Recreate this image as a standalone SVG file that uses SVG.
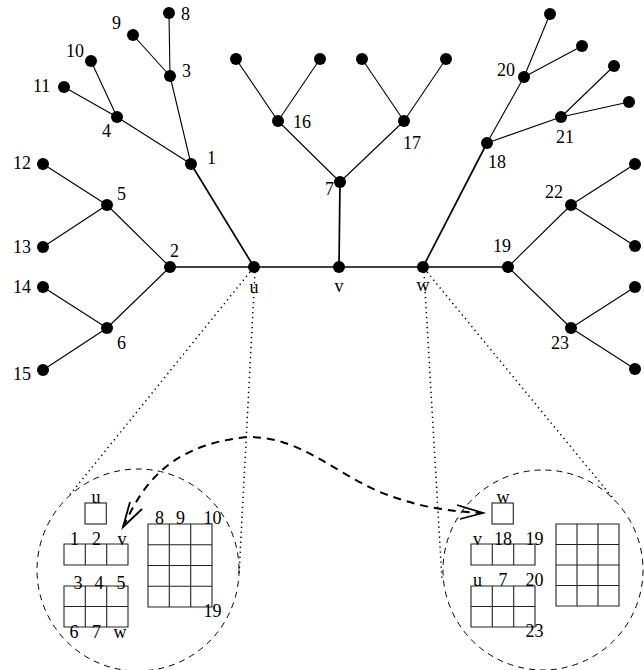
<svg xmlns="http://www.w3.org/2000/svg" width="644" height="670" viewBox="0 0 644 670">
<style>
.e{stroke:#000;stroke-width:1.1;fill:none}
.t{stroke:#000;stroke-width:1.7;fill:none}
.n{fill:#000}
text{font-family:"Liberation Serif","Times New Roman",serif;font-size:18px;fill:#000}
.m{text-anchor:middle}
.dot{stroke:#000;stroke-width:1.5;stroke-dasharray:1.3 3.7;fill:none}
.circ{stroke:#000;stroke-width:1;stroke-dasharray:6 5;fill:none}
.g{stroke:#222;stroke-width:1.1;fill:none}
.arr{stroke:#000;stroke-width:2;stroke-dasharray:8 6;fill:none}
.head{stroke:#000;stroke-width:1.8;fill:none;stroke-linejoin:miter}
</style>
<rect width="644" height="670" fill="#fff"/>
<g id="connectors">
<path class="t" d="M170,267H508"/>
<path class="t" d="M254,267L191,164"/>
<path class="t" d="M339,267L340,182"/>
<path class="t" d="M423,267L487,143"/>
<path class="e" d="M191,164L117,117M191,164L170,76M170,76L169,13M170,76L133,35M117,117L91,61M117,117L64,87"/>
<path class="e" d="M170,267L107,205M170,267L107,328M107,205L43,164M107,205L43,247M107,328L43,287M107,328L43,370"/>
<path class="e" d="M340,182L278,121M340,182L404,121M278,121L236,59M278,121L320,59M404,121L362,59M404,121L446,59"/>
<path class="e" d="M487,143L524,77M487,143L561,117M524,77L550,14M524,77L582,46M561,117L614,66M561,117L629,102"/>
<path class="e" d="M508,267L571,205M508,267L571,328M571,205L635,164M571,205L635,246M571,328L635,287M571,328L635,369"/>
<path class="dot" d="M250,272L68,497M255,272L239,575M424,272L442,580M427,272L612,497"/>
<path class="arr" d="M123,527C138,497 160,445 248,437C300,437 330,470 380,492C420,508 450,511 481,513"/>
<polyline class="head" points="130,502 123,527 142,509"/>
<polyline class="head" points="457,505 483,513 460,519"/>
</g>
<g id="node-u"><circle class="n" cx="254" cy="267" r="6"/><text class="m" x="254" y="293">u</text></g>
<g id="node-v"><circle class="n" cx="339" cy="267" r="6"/><text class="m" x="339" y="292">v</text></g>
<g id="node-w"><circle class="n" cx="423" cy="267" r="6"/><text class="m" x="423" y="291">w</text></g>
<g id="node-1"><circle class="n" cx="191" cy="164" r="6"/><text x="207" y="164">1</text></g>
<g id="node-2"><circle class="n" cx="170" cy="267" r="6"/><text x="170" y="257">2</text></g>
<g id="node-3"><circle class="n" cx="170" cy="76" r="6"/><text x="182" y="77">3</text></g>
<g id="node-4"><circle class="n" cx="117" cy="117" r="6"/><text x="102" y="137">4</text></g>
<g id="node-5"><circle class="n" cx="107" cy="205" r="6"/><text x="117" y="200">5</text></g>
<g id="node-6"><circle class="n" cx="107" cy="328" r="6"/><text x="117" y="349">6</text></g>
<g id="node-7"><circle class="n" cx="340" cy="182" r="6"/><text x="325" y="195">7</text></g>
<g id="node-8"><circle class="n" cx="169" cy="13" r="6"/><text x="181" y="20">8</text></g>
<g id="node-9"><circle class="n" cx="133" cy="35" r="6"/><text x="112" y="29">9</text></g>
<g id="node-10"><circle class="n" cx="91" cy="61" r="6"/><text x="66" y="57">10</text></g>
<g id="node-11"><circle class="n" cx="64" cy="87" r="6"/><text x="33" y="92">11</text></g>
<g id="node-12"><circle class="n" cx="43" cy="164" r="6"/><text x="13" y="169">12</text></g>
<g id="node-13"><circle class="n" cx="43" cy="247" r="6"/><text x="13" y="253">13</text></g>
<g id="node-14"><circle class="n" cx="43" cy="287" r="6"/><text x="13" y="293">14</text></g>
<g id="node-15"><circle class="n" cx="43" cy="370" r="6"/><text x="13" y="380">15</text></g>
<g id="node-16"><circle class="n" cx="278" cy="121" r="6"/><text x="293" y="128">16</text></g>
<g id="node-17"><circle class="n" cx="404" cy="121" r="6"/><text x="403" y="149">17</text></g>
<g id="node-18"><circle class="n" cx="487" cy="143" r="6"/><text x="488" y="168">18</text></g>
<g id="node-19"><circle class="n" cx="508" cy="267" r="6"/><text x="493" y="252">19</text></g>
<g id="node-20"><circle class="n" cx="524" cy="77" r="6"/><text x="497" y="76">20</text></g>
<g id="node-21"><circle class="n" cx="561" cy="117" r="6"/><text x="556" y="143">21</text></g>
<g id="node-22"><circle class="n" cx="571" cy="205" r="6"/><text x="545" y="198">22</text></g>
<g id="node-23"><circle class="n" cx="571" cy="328" r="6"/><text x="551" y="349">23</text></g>
<g id="leaf-16a"><circle class="n" cx="236" cy="59" r="6"/></g>
<g id="leaf-16b"><circle class="n" cx="320" cy="59" r="6"/></g>
<g id="leaf-17a"><circle class="n" cx="362" cy="59" r="6"/></g>
<g id="leaf-17b"><circle class="n" cx="446" cy="59" r="6"/></g>
<g id="leaf-20a"><circle class="n" cx="550" cy="14" r="6"/></g>
<g id="leaf-20b"><circle class="n" cx="582" cy="46" r="6"/></g>
<g id="leaf-21a"><circle class="n" cx="614" cy="66" r="6"/></g>
<g id="leaf-21b"><circle class="n" cx="629" cy="102" r="6"/></g>
<g id="leaf-22a"><circle class="n" cx="635" cy="164" r="6"/></g>
<g id="leaf-22b"><circle class="n" cx="635" cy="246" r="6"/></g>
<g id="leaf-23a"><circle class="n" cx="635" cy="287" r="6"/></g>
<g id="leaf-23b"><circle class="n" cx="635" cy="369" r="6"/></g>
<g id="zoom-u">
<circle class="circ" cx="138" cy="570" r="101"/>
<rect class="g" x="85" y="503" width="21.3" height="21"/>
<text class="m" x="96" y="503">u</text>
<path class="g" d="M64,544h64v21h-64zM85.3,544v21M106.7,544v21"/>
<text class="m" x="74.5" y="545">1</text><text class="m" x="96.5" y="545">2</text><text class="m" x="122" y="545">v</text>
<path class="g" d="M64,586h64v41h-64zM64,606.5h64M85.3,586v41M106.7,586v41"/>
<text class="m" x="78" y="589">3</text><text class="m" x="99" y="589">4</text><text class="m" x="121" y="589">5</text>
<text class="m" x="74" y="638">6</text><text class="m" x="96.5" y="638">7</text><text class="m" x="120" y="638">w</text>
<path class="g" d="M148,524h64v83h-64zM148,544.75h64M148,565.5h64M148,586.25h64M169.3,524v83M190.7,524v83"/>
<text class="m" x="159.5" y="524">8</text><text class="m" x="180.5" y="524">9</text><text class="m" x="212.5" y="524">10</text>
<text class="m" x="212.5" y="617">19</text>
</g>
<g id="zoom-w">
<circle class="circ" cx="543" cy="570" r="100"/>
<rect class="g" x="492" y="503" width="21.3" height="21"/>
<text class="m" x="503" y="503">w</text>
<path class="g" d="M471,544h64v21h-64zM492.3,544v21M513.7,544v21"/>
<text class="m" x="477.5" y="545">v</text><text class="m" x="503" y="545">18</text><text class="m" x="534.5" y="545">19</text>
<path class="g" d="M471,586h64v41h-64zM471,606.5h64M492.3,586v41M513.7,586v41"/>
<text class="m" x="477.5" y="586">u</text><text class="m" x="503" y="586">7</text><text class="m" x="534.5" y="586">20</text>
<text class="m" x="534.5" y="637">23</text>
<path class="g" d="M556,524h63v82h-63zM556,544.5h63M556,565h63M556,585.5h63M577,524v82M598,524v82"/>
</g>
</svg>
